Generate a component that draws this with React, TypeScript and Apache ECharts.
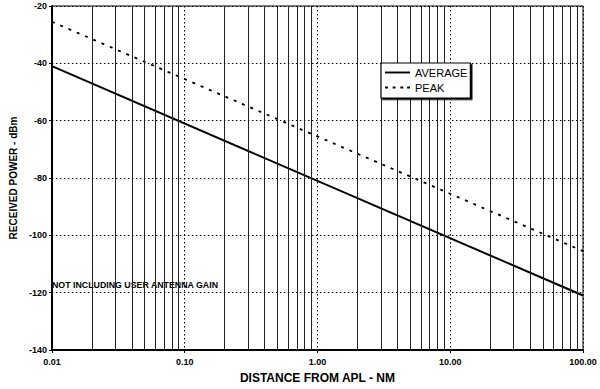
import React, { useEffect, useRef } from "react";
import * as echarts from "echarts";

const distances = [0.01, 100];
const averageDbm = [-41, -121];
const peakDbm = [-25.5, -105.5];
const minorGridValues = [
  0.02, 0.03, 0.04, 0.05, 0.06, 0.07, 0.08, 0.09,
  0.2, 0.3, 0.4, 0.5, 0.6, 0.7, 0.8, 0.9,
  2, 3, 4, 5, 6, 7, 8, 9,
  20, 30, 40, 50, 60, 70, 80, 90,
];
const yTicks = { min: -140, max: -20, interval: 20 };
const FONT = "'Liberation Sans', Arial, sans-serif";

const SOLID_ICON = "path://M0,0H26V2H0Z";
const DASH_ICON = "path://M0,0H3V2H0Z M8,0H11V2H8Z M16,0H19V2H16Z M23,0H26V2H23Z";

export default function App() {
  const ref = useRef<HTMLDivElement>(null);
  useEffect(() => {
    if (!ref.current) return;
    const chart = echarts.init(ref.current, undefined, { renderer: "svg" });
    chart.setOption({
      animation: false,
      backgroundColor: "#fff",
      grid: {
        left: 35, right: 17, top: 6, bottom: 35,
        show: true, borderColor: "#000", borderWidth: 1,
      },
      legend: {
        z: 20,
        left: 381, top: 63,
        orient: "vertical",
        data: [
          { name: "AVERAGE", icon: SOLID_ICON },
          { name: "PEAK", icon: DASH_ICON },
        ],
        backgroundColor: "#fff",
        borderColor: "#000", borderWidth: 1.2,
        shadowColor: "#000", shadowOffsetX: 1.5, shadowOffsetY: 1.5, shadowBlur: 0,
        padding: [3, 3, 4, 4],
        itemWidth: 25, itemHeight: 2, itemGap: 2,
        textStyle: { fontFamily: FONT, fontSize: 11, color: "#000", lineHeight: 13 },
      },
      xAxis: {
        type: "log", logBase: 10, min: 0.01, max: 100,
        name: "DISTANCE FROM APL - NM",
        nameLocation: "middle", nameGap: 22,
        nameTextStyle: { fontFamily: FONT, fontSize: 12, fontWeight: "bold", color: "#000" },
        axisLine: { show: true, lineStyle: { color: "#000", width: 2 } },
        axisTick: { show: true, length: 3, lineStyle: { color: "#000" } },
        axisLabel: {
          fontFamily: FONT, fontSize: 9, fontWeight: "bold", color: "#000", margin: 7,
          showMinLabel: true, showMaxLabel: true,
          formatter: (v: number) => v.toFixed(2),
        },
        splitLine: { show: true, lineStyle: { color: "#000", type: [1.5, 2.5], width: 1 } },
        minorTick: { show: false },
      },
      yAxis: {
        type: "value", ...yTicks,
        name: "RECEIVED POWER - dBm",
        nameLocation: "middle", nameGap: 27, nameRotate: 90,
        nameTextStyle: { fontFamily: FONT, fontSize: 10, fontWeight: "bold", color: "#000" },
        axisLine: { show: true, lineStyle: { color: "#000", width: 2 } },
        axisTick: { show: true, length: 3, lineStyle: { color: "#000" } },
        axisLabel: { fontFamily: FONT, fontSize: 9, fontWeight: "bold", color: "#000", margin: 5 },
        splitLine: { show: true, lineStyle: { color: "#000", type: [1.5, 2.5], width: 1 } },
      },
      graphic: [
        {
          type: "text", left: 52, top: 280, silent: true,
          style: {
            text: "NOT INCLUDING USER ANTENNA GAIN",
            font: `bold 8.8px ${FONT}`, fill: "#000",
          },
        },
      ],
      series: [
        {
          name: "minor",
          type: "line",
          data: [],
          silent: true,
          markLine: {
            silent: true,
            symbol: ["none", "none"],
            label: { show: false },
            lineStyle: { color: "#222", width: 1, type: "solid" },
            emphasis: { disabled: true },
            data: minorGridValues.map((v) => ({ xAxis: v })),
          },
        },
        {
          name: "AVERAGE",
          type: "line",
          data: distances.map((d, i) => [d, averageDbm[i]]),
          symbol: "none",
          lineStyle: { color: "#000", width: 2 },
          itemStyle: { color: "#000" },
        },
        {
          name: "PEAK",
          type: "line",
          data: distances.map((d, i) => [d, peakDbm[i]]),
          symbol: "none",
          lineStyle: { color: "#000", width: 1.8, type: [3, 6] },
          itemStyle: { color: "#000" },
        },
      ],
    });
    return () => chart.dispose();
  }, []);
  return <div ref={ref} style={{ width: 600, height: 389, position: "fixed", left: 0, top: 0 }} />;
}
